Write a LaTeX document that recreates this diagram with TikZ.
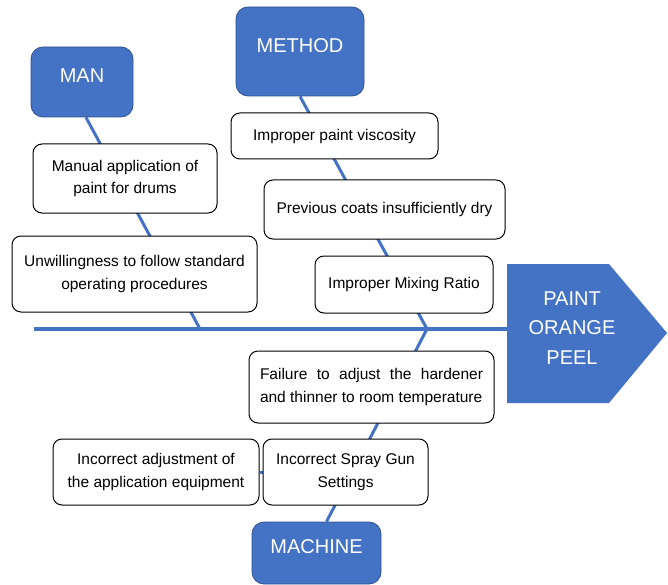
\documentclass[tikz,border=0pt]{standalone}
\usepackage{fontspec}
\setmainfont{Liberation Sans}
\usetikzlibrary{backgrounds}
\definecolor{catblue}{RGB}{68, 114, 196}
\definecolor{catedge}{RGB}{47, 82, 143}

\tikzset{
  catbox/.style={draw=catedge, line width=0.8pt, fill=catblue, rounded corners=12pt, text=white, font=\fontsize{20}{24}\selectfont, text depth=12pt, inner sep=0pt},
  causebox/.style={draw=black, line width=1pt, fill=white, rounded corners=9pt, align=center, font=\fontsize{15.5}{22.5}\selectfont, inner sep=0pt},
  bone/.style={draw=catblue, line width=3pt},
  spine/.style={draw=catblue, line width=4.5pt},
}

\begin{document}
\begin{tikzpicture}[x=1pt, y=-1pt]
  \useasboundingbox (0,0) rectangle (668,585);

  % Head
  \fill[catblue] (507,264) -- (609,264) -- (667,333) -- (609,403) -- (507,403) -- cycle;
  \node[font=\fontsize{20}{29.5}\selectfont, text=white, align=center] (head) at (572,328) {PAINT\\ORANGE\\PEEL};

  % Spine
  \coordinate (tail) at (34,329);
  \coordinate (headwest) at (507,329);
  \coordinate (manjoin) at (200,329);
  \coordinate (methjoin) at (427,329);
  \draw[spine] (tail) -- (headwest);

  % Categories
  \node[catbox, minimum width=102pt, minimum height=70pt] (man) at (82,82) {MAN};
  \node[catbox, minimum width=128pt, minimum height=89pt] (method) at (300,51.5) {METHOD};
  \node[catbox, minimum width=129pt, minimum height=62pt] (machine) at (316.5,553) {MACHINE};

  % Causes
  \node[causebox, minimum width=184pt, minimum height=69pt] (manual) at (125,178.5) {Manual application of\\paint for drums};
  \node[causebox, minimum width=245pt, minimum height=76pt] (unwill) at (134.5,274) {Unwillingness to follow standard\\operating procedures};
  \node[causebox, minimum width=207pt, minimum height=46pt] (visc) at (334.5,136) {Improper paint viscosity};
  \node[causebox, minimum width=241pt, minimum height=59pt] (prevcoat) at (384.5,209.5) {Previous coats insufficiently dry};
  \node[causebox, minimum width=178pt, minimum height=57pt] (mixing) at (404,284.5) {Improper Mixing Ratio};
  \node[causebox, minimum width=245pt, minimum height=72pt, text width=223pt, align=justify] (failadj) at (371.5,387) {Failure to adjust the hardener\linebreak and thinner to room temperature};
  \node[causebox, minimum width=165pt, minimum height=66pt] (spray) at (345.5,472) {Incorrect Spray Gun\\Settings};
  \node[causebox, minimum width=206pt, minimum height=66pt] (equip) at (156,472) {Incorrect adjustment of\\the application equipment};

  % Bones
  \begin{pgfonlayer}{background}
    \draw[bone] ([xshift=4pt]man.south) -- (manjoin);
    \draw[bone] (method.south) -- (methjoin);
    \draw[bone] ([xshift=10pt]machine.north) -- (methjoin);
    \draw[bone] (equip) -- (spray);
  \end{pgfonlayer}
\end{tikzpicture}
\end{document}
